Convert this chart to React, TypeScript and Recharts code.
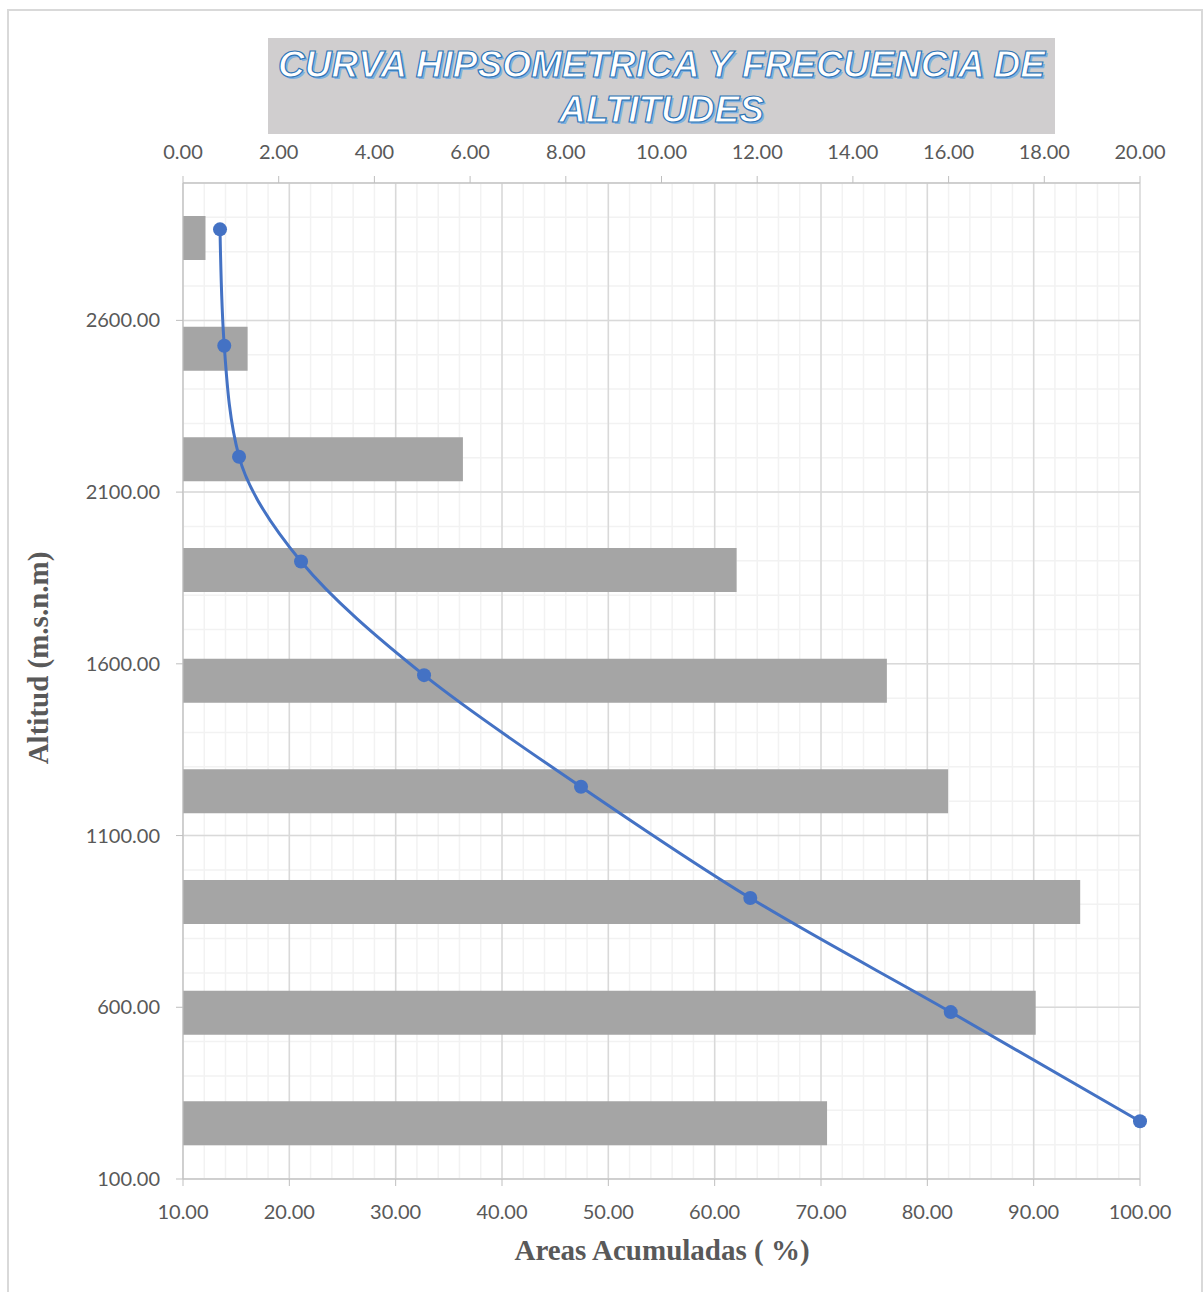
import { Bar, CartesianGrid, ComposedChart, Scatter, XAxis, YAxis } from 'recharts';

// Clases altitudinales, de abajo hacia arriba
const clases = ['C1', 'C2', 'C3', 'C4', 'C5', 'C6', 'C7', 'C8', 'C9'];
// Frecuencia de altitudes (% del area en cada clase)
const frecuencias = [13.46, 17.82, 18.75, 15.99, 14.71, 11.57, 5.85, 1.35, 0.47];

// Curva hipsometrica, de la cota mas alta a la mas baja
const altitudes = [2865, 2526, 2203, 1898, 1567, 1242, 918, 586, 268];
const areasAcumuladas = [13.48, 13.88, 15.27, 21.1, 32.67, 47.43, 63.35, 82.2, 100];

const areaTicks = [10, 20, 30, 40, 50, 60, 70, 80, 90, 100];
const freqTicks = [0, 2, 4, 6, 8, 10, 12, 14, 16, 18, 20];
const altTicks = [100, 600, 1100, 1600, 2100, 2600];
const areaMinor = Array.from({ length: 46 }, (_, i) => 10 + i * 2);
const altMinor = Array.from({ length: 30 }, (_, i) => 100 + i * 100);

const barData = clases.map((clase, i) => ({ clase, freq: frecuencias[i] }));
const curva = altitudes.map((alt, i) => ({ alt, area: areasAcumuladas[i] }));

const fmt = (v: number) => v.toFixed(2);
const toPx = (axis: any, v: number) => {
  const s = axis?.scale;
  if (!s) return null;
  return typeof s === 'function' ? s(v) : s.map(v);
};

const tickStyle = { fill: '#595959', fontSize: 20, fontFamily: 'Lato' };
const axisGray = { stroke: '#bfbfbf' };

export default function App() {
  return (
    <div style={{ position: 'absolute', left: 0, top: 0, width: 1203, height: 1292, background: '#fff' }}>
      <div
        style={{
          position: 'absolute',
          left: 7,
          top: 9,
          width: 1192,
          height: 1300,
          border: '2px solid #d9d9d9',
        }}
      />
      <ComposedChart
        width={1203}
        height={1292}
        data={barData}
        layout="vertical"
        margin={{ top: 143, right: 63, bottom: 73, left: 83 }}
      >
        {/* rejilla menor */}
        <CartesianGrid
          xAxisId="area"
          yAxisId="alt"
          stroke="#f2f2f2"
          strokeWidth={1.5}
          verticalCoordinatesGenerator={({ xAxis }: any) =>
            areaMinor.map((v) => toPx(xAxis, v)).filter((p) => p != null)
          }
          horizontalCoordinatesGenerator={({ yAxis }: any) =>
            altMinor.map((v) => toPx(yAxis, v)).filter((p) => p != null)
          }
        />
        <CartesianGrid xAxisId="area" yAxisId="alt" stroke="#d9d9d9" strokeWidth={1.5} />
        <XAxis
          xAxisId="area"
          type="number"
          dataKey="area"
          orientation="bottom"
          domain={[10, 100]}
          ticks={areaTicks}
          interval={0}
          tickFormatter={fmt}
          height={40}
          axisLine={axisGray}
          tickLine={axisGray}
          tickSize={7}
          tickMargin={19}
          tick={tickStyle}
        />
        <XAxis
          xAxisId="freq"
          type="number"
          dataKey="freq"
          orientation="top"
          domain={[0, 20]}
          ticks={freqTicks}
          interval={0}
          tickFormatter={fmt}
          height={40}
          axisLine={axisGray}
          tickLine={axisGray}
          tickSize={7}
          tickMargin={17}
          tick={tickStyle}
        />
        <YAxis
          yAxisId="alt"
          type="number"
          dataKey="alt"
          domain={[100, 3000]}
          ticks={altTicks}
          interval={0}
          reversed
          tickFormatter={fmt}
          width={100}
          axisLine={axisGray}
          tickLine={axisGray}
          tickSize={7}
          tickMargin={16}
          tick={tickStyle}
        />
        <YAxis yAxisId="cls" type="category" dataKey="clase" hide reversed />
        <Bar
          dataKey="freq"
          xAxisId="freq"
          yAxisId="cls"
          fill="#a5a5a5"
          barSize={44}
          isAnimationActive={false}
        />
        <Scatter
          data={curva}
          xAxisId="area"
          yAxisId="alt"
          fill="#4472c4"
          line={{ stroke: '#4472c4', strokeWidth: 3 }}
          lineJointType="monotoneY"
          shape={(p: any) => <circle cx={p.cx} cy={p.cy} r={7} fill="#4472c4" />}
          isAnimationActive={false}
        />
      </ComposedChart>

      <div
        style={{
          position: 'absolute',
          left: 268,
          top: 38,
          width: 787,
          height: 96,
          background: '#d0cecf',
          textAlign: 'center',
          fontFamily: '"Liberation Sans", Arial, sans-serif',
          fontWeight: 'bold',
          fontStyle: 'italic',
          fontSize: 37,
          lineHeight: '45px',
          paddingTop: 4,
          boxSizing: 'border-box',
          color: '#ffffff',
          WebkitTextStroke: '1.2px #2e75b6',
          textShadow: '2px 2px 0 #7fb0e0',
        }}
      >
        CURVA HIPSOMETRICA Y FRECUENCIA DE
        <br />
        ALTITUDES
      </div>

      <div
        style={{
          position: 'absolute',
          left: 38,
          top: 658,
          transform: 'translate(-50%, -50%) rotate(-90deg)',
          whiteSpace: 'nowrap',
          fontFamily: '"Liberation Serif", "Times New Roman", serif',
          fontWeight: 'bold',
          fontSize: 29,
          color: '#595959',
        }}
      >
        Altitud (m.s.n.m)
      </div>
      <div
        style={{
          position: 'absolute',
          left: 662,
          top: 1250,
          transform: 'translate(-50%, -50%)',
          whiteSpace: 'nowrap',
          fontFamily: '"Liberation Serif", "Times New Roman", serif',
          fontWeight: 'bold',
          fontSize: 29,
          color: '#595959',
        }}
      >
        Areas Acumuladas ( %)
      </div>
    </div>
  );
}
